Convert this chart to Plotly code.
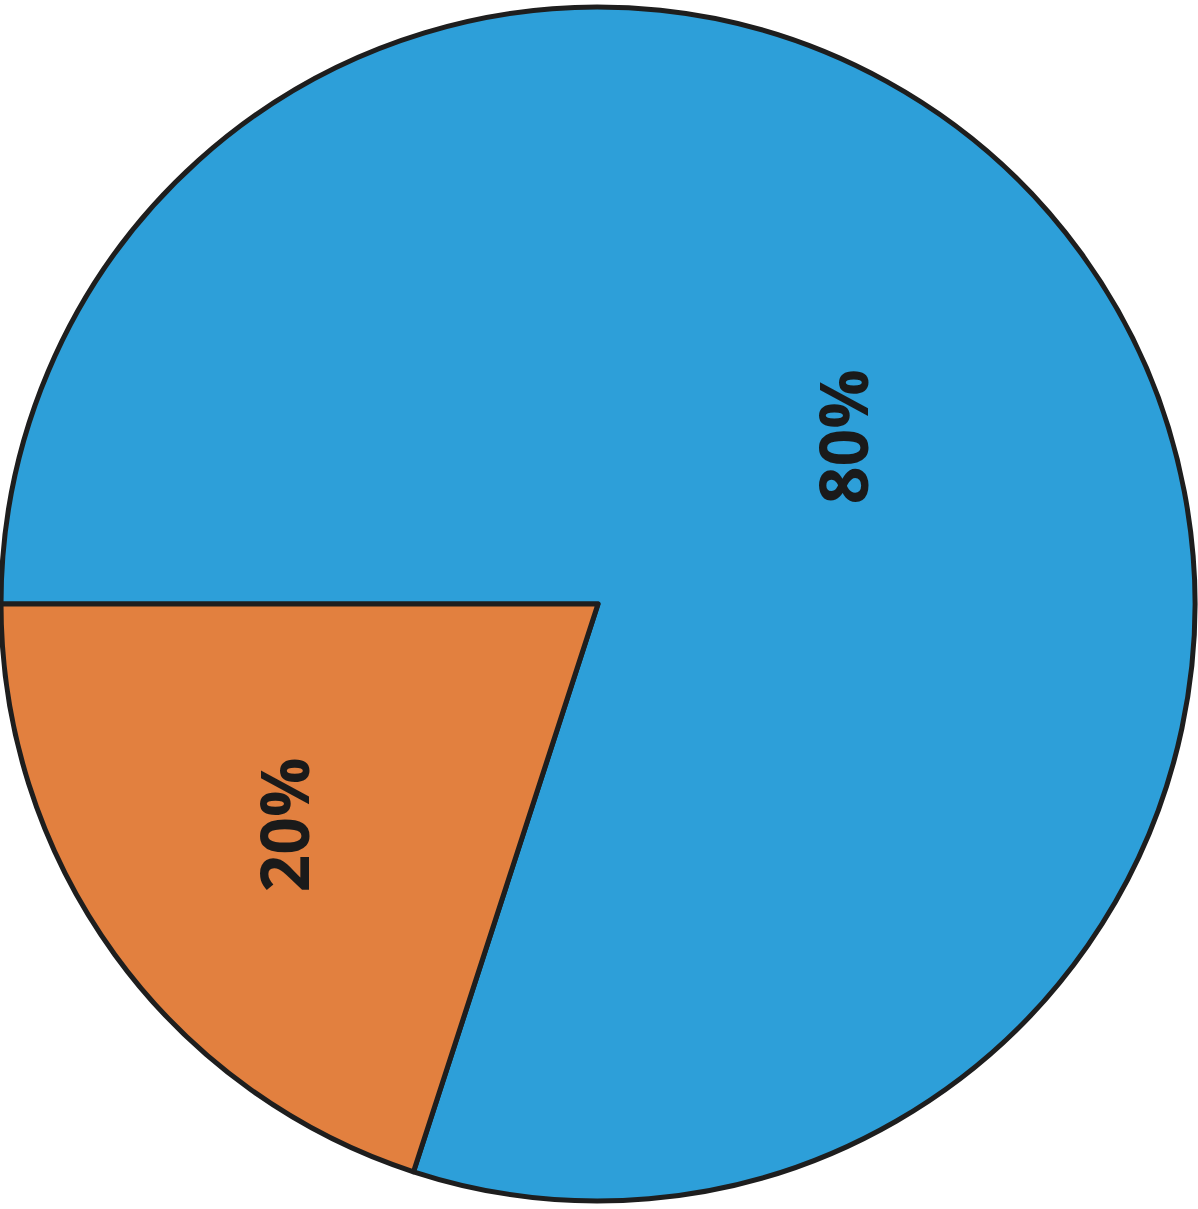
import math
import plotly.graph_objects as go

labels = ["Blue", "Orange"]
values = [80, 20]
colors = ["#2D9FD9", "#E2803F"]
label_radius = [0.495, 0.645]
label_angle_offset = [-1.5, -1.0]

W, H = 1198, 1209
cx, cy, r = 598, 604, 597  # pixel centre and radius of the pie

start_deg = 180.0  # slices start at 9 o'clock and run clockwise

fig = go.Figure(go.Pie(
    labels=labels,
    values=values,
    sort=False,
    direction="clockwise",
    rotation=270,
    marker=dict(colors=colors, line=dict(color="#1E1E1E", width=5)),
    textinfo="none",
    hoverinfo="label+percent",
    showlegend=False,
    domain=dict(x=[(cx - r) / W, (cx + r) / W],
                y=[(H - cy - r) / H, (H - cy + r) / H]),
))

total = sum(values)
acc = 0.0
annotations = []
for v, f, off in zip(values, label_radius, label_angle_offset):
    mid = start_deg - (acc + v / 2) / total * 360.0 + off
    acc += v
    px = cx + r * f * math.cos(math.radians(mid))
    py = cy - r * f * math.sin(math.radians(mid))
    annotations.append(dict(
        x=px / W, y=1 - py / H, xref="paper", yref="paper",
        text=f"<b>{round(v / total * 100)}%</b>", showarrow=False, textangle=-90,
        font=dict(family="Open Sans", size=66, color="#1A1A1A"),
        xanchor="center", yanchor="middle",
    ))

fig.update_layout(
    width=W, height=H,
    margin=dict(l=0, r=0, t=0, b=0),
    paper_bgcolor="white",
    plot_bgcolor="white",
    annotations=annotations,
)

fig.write_html("out.html",
               config={"displayModeBar": False},
               post_script="document.body.style.margin='0px';document.body.style.padding='0px';")
